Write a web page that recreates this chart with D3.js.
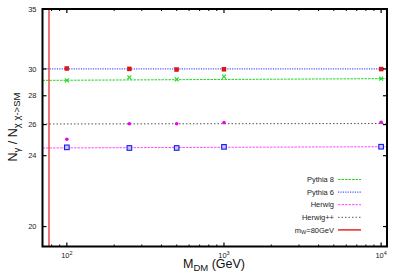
<!DOCTYPE html>
<html>
<head>
<meta charset="utf-8">
<script src="https://cdn.jsdelivr.net/npm/d3@7"></script>
<style>
  body { margin: 0; background: #fff; }
  svg { display: block; font-family: "Liberation Sans", Arial, sans-serif; }
</style>
</head>
<body>
<svg id="chart" width="399" height="279"></svg>
<script>
// dark matter masses (GeV) where the generators were run
const masses = [100, 250, 500, 1000, 10000];
const pythia8 = [29.13, 29.36, 29.2, 29.42, 29.26];
const pythia6 = [30.03, 30.0, 29.95, 29.98, 29.99];
const herwig = [24.52, 24.48, 24.48, 24.55, 24.56];
const herwigpp = [25.04, 26.05, 26.05, 26.13, 26.15];

// straight fits, given at the two ends of the x range
const fitEnds = [70, 10900];
const pythia8Fit = [29.13, 29.26];
const pythia6Fit = [30.0, 30.0];
const herwigFit = [24.48, 24.56];
const herwigppFit = [26.04, 26.07];

const mWLine = 77;

const yTicks = [20, 24, 26, 28, 30, 35];
const xMajor = [100, 1000, 10000];
const xMinor = [80, 90, 200, 300, 400, 500, 600, 700, 800, 900,
  2000, 3000, 4000, 5000, 6000, 7000, 8000, 9000];
const xExp = ['2', '3', '4'];

const legendNames = ['Pythia 8', 'Pythia 6', 'Herwig', 'Herwig++'];

const margin = { top: 9, right: 12, bottom: 32.5, left: 42.5 };
const width = 399, height = 279;

const svg = d3.select('#chart');

const x = d3.scaleLog()
  .domain([70, 10900])
  .range([margin.left, width - margin.right]);

const y = d3.scaleLog()
  .domain([19, 35])
  .range([height - margin.bottom, margin.top]);

const plot = svg.append('g');

// series styles
const series = [
  { name: legendNames[0], vals: pythia8, fit: pythia8Fit, line: '#1ed81e', dash: '2.5,1', mark: 'cross', col: '#1ed81e' },
  { name: legendNames[1], vals: pythia6, fit: pythia6Fit, line: '#2a2aff', dash: '1.2,1.2', mark: 'square', col: '#ee1111' },
  { name: legendNames[2], vals: herwig, fit: herwigFit, line: '#ff4cff', dash: '2.5,1', mark: 'open', col: '#1a1aee' },
  { name: legendNames[3], vals: herwigpp, fit: herwigppFit, line: '#555', dash: '1.5,2', mark: 'dot', col: '#ee00ee' }
];

// fit lines
const fitLine = d3.line()
  .x(d => x(d[0]))
  .y(d => y(d[1]));

series.forEach(s => {
  plot.append('path')
    .datum(fitEnds.map((e, i) => [e, s.fit[i]]))
    .attr('fill', 'none')
    .attr('stroke', s.line)
    .attr('stroke-width', 1)
    .attr('stroke-dasharray', s.dash)
    .attr('d', fitLine);
});

// m_W line
plot.append('line')
  .attr('x1', x(mWLine)).attr('x2', x(mWLine))
  .attr('y1', y(35)).attr('y2', y(19))
  .attr('stroke', '#e31a1a')
  .attr('stroke-width', 1.2);

// markers
series.forEach(s => {
  const g = plot.append('g');
  masses.forEach((m, i) => {
    const cx = x(m), cy = y(s.vals[i]);
    if (s.mark === 'square') {
      g.append('rect').attr('x', cx - 2).attr('y', cy - 2).attr('width', 4).attr('height', 4)
        .attr('fill', s.col).attr('stroke', '#a00').attr('stroke-width', 0.4);
    } else if (s.mark === 'open') {
      g.append('rect').attr('x', cx - 2.3).attr('y', cy - 2.3).attr('width', 4.6).attr('height', 4.6)
        .attr('fill', '#c8c8ff').attr('stroke', s.col).attr('stroke-width', 1.1);
    } else if (s.mark === 'cross') {
      g.append('path')
        .attr('d', `M${cx - 2},${cy - 2}L${cx + 2},${cy + 2}M${cx - 2},${cy + 2}L${cx + 2},${cy - 2}`)
        .attr('stroke', s.col).attr('stroke-width', 1.1);
    } else {
      g.append('circle').attr('cx', cx).attr('cy', cy).attr('r', 1.8).attr('fill', s.col);
    }
  });
});

// frame and ticks
const x0 = x.range()[0], x1 = x.range()[1];
const y0 = y.range()[0], y1 = y.range()[1];

const ticks = svg.append('g').attr('stroke', '#000');
yTicks.forEach(t => {
  ticks.append('line').attr('x1', x0).attr('x2', x0 + 4).attr('y1', y(t)).attr('y2', y(t)).attr('stroke-width', 1.2);
  ticks.append('line').attr('x1', x1).attr('x2', x1 - 4).attr('y1', y(t)).attr('y2', y(t)).attr('stroke-width', 1.2);
});
xMajor.forEach(t => {
  ticks.append('line').attr('x1', x(t)).attr('x2', x(t)).attr('y1', y0).attr('y2', y0 - 4).attr('stroke-width', 1.2);
  ticks.append('line').attr('x1', x(t)).attr('x2', x(t)).attr('y1', y1).attr('y2', y1 + 4).attr('stroke-width', 1.2);
});
xMinor.forEach(t => {
  ticks.append('line').attr('x1', x(t)).attr('x2', x(t)).attr('y1', y0).attr('y2', y0 - 2).attr('stroke-width', 1);
  ticks.append('line').attr('x1', x(t)).attr('x2', x(t)).attr('y1', y1).attr('y2', y1 + 2).attr('stroke-width', 1);
});

svg.append('rect')
  .attr('x', x0).attr('y', y1)
  .attr('width', x1 - x0).attr('height', y0 - y1)
  .attr('fill', 'none')
  .attr('stroke', '#000')
  .attr('stroke-width', 2);

// tick labels
svg.append('g').selectAll('text')
  .data(yTicks)
  .join('text')
  .attr('x', x0 - 6)
  .attr('y', d => y(d))
  .attr('dy', '0.35em')
  .attr('text-anchor', 'end')
  .attr('font-size', '7.5px')
  .attr('fill', '#222')
  .text(d => d);

xMajor.forEach((t, i) => {
  const lab = svg.append('text')
    .attr('x', x(t))
    .attr('y', y0 + 11)
    .attr('text-anchor', 'middle')
    .attr('font-size', '7.5px')
    .attr('fill', '#222');
  lab.append('tspan').text('10');
  lab.append('tspan').attr('font-size', '5.5px').attr('dy', '-3').text(xExp[i]);
});

// axis titles
const xt = svg.append('text')
  .attr('x', 214)
  .attr('y', 268)
  .attr('text-anchor', 'middle')
  .attr('font-size', '12.5px')
  .attr('fill', '#111');
xt.append('tspan').text('M');
xt.append('tspan').attr('font-size', '9.5px').attr('dy', '2.5').text('DM');
xt.append('tspan').attr('dy', '-2.5').text(' (GeV)');

const yt = svg.append('text')
  .attr('transform', 'translate(17,127) rotate(-90)')
  .attr('text-anchor', 'middle')
  .attr('font-size', '12.5px')
  .attr('fill', '#111');
yt.append('tspan').text('N');
yt.append('tspan').attr('font-size', '9.5px').attr('dy', '2.5').text('γ');
yt.append('tspan').attr('dy', '-2.5').text(' / N');
yt.append('tspan').attr('font-size', '9.5px').attr('dy', '2.5').text('χ χ->SM');

// legend
const legendRows = series.map(s => ({ name: s.name, line: s.line, dash: s.dash }));
legendRows.push({ name: null, line: '#e31a1a', dash: null });

const leg = svg.append('g');
legendRows.forEach((r, i) => {
  const ly = 179.5 + i * 12.6;
  const t = leg.append('text')
    .attr('x', 334)
    .attr('y', ly)
    .attr('dy', '0.35em')
    .attr('text-anchor', 'end')
    .attr('font-size', '7.5px')
    .attr('fill', '#222');
  if (r.name) {
    t.text(r.name);
  } else {
    t.append('tspan').text('m');
    t.append('tspan').attr('font-size', '5.5px').attr('dy', '1.5').text('W');
    t.append('tspan').attr('dy', '-1.5').text('=80GeV');
  }
  leg.append('line')
    .attr('x1', 338).attr('x2', 361)
    .attr('y1', ly).attr('y2', ly)
    .attr('stroke', r.line)
    .attr('stroke-width', r.dash ? 1 : 1.4)
    .attr('stroke-dasharray', r.dash);
});
</script>
</body>
</html>
